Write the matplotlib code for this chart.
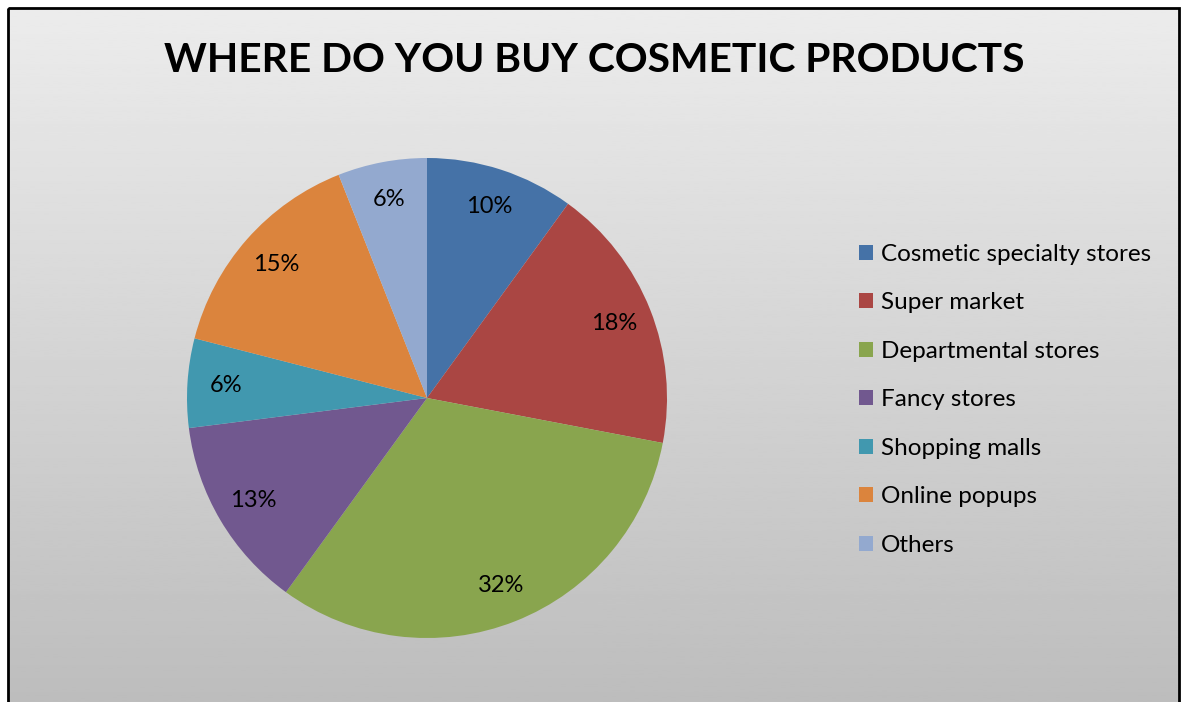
import numpy as np
import matplotlib
matplotlib.use('Agg')
import matplotlib.pyplot as plt
from matplotlib.patches import Rectangle

# survey answers, share of respondents in percent
places = ['Cosmetic specialty stores', 'Super market', 'Departmental stores',
          'Fancy stores', 'Shopping malls', 'Online popups', 'Others']
shares = [10, 18, 32, 13, 6, 15, 6]
colors = ['#4572A7', '#AA4643', '#89A54E', '#71588F', '#4198AF', '#DB843D', '#93A9CF']

plt.rcParams['font.family'] = ['Lato', 'DejaVu Sans']

W, H = 1181, 702
fig = plt.figure(figsize=(W / 100, H / 100), dpi=100)
fig.patch.set_facecolor('white')

# grey gradient chart area with a black frame
bg = fig.add_axes([0, 0, 1, 1])
bg.set_xlim(0, W)
bg.set_ylim(H, 0)
bg.axis('off')
grad = np.linspace(0.925, 0.74, 256).reshape(-1, 1)
bg.imshow(grad, cmap='gray', vmin=0, vmax=1, aspect='auto',
          extent=[8, 1180, H + 2, 8], zorder=0)
bg.add_patch(Rectangle((8, 8), 1171, H + 10, fill=False, lw=2,
                       edgecolor='black', zorder=1))
bg.text(594, 60, 'WHERE DO YOU BUY COSMETIC PRODUCTS', ha='center', va='center',
        fontsize=29.3, fontweight='bold', color='black')

# pie, centre at (427, 398) px, radius 240 px
ax = fig.add_axes([(427 - 240) / W, 1 - 638 / H, 480 / W, 480 / H])
wedges, texts, autotexts = ax.pie(
    shares, colors=colors, startangle=90, counterclock=False,
    autopct='%.0f%%', pctdistance=0.84, radius=1,
    wedgeprops=dict(linewidth=0.5, edgecolor='none'),
    textprops=dict(fontsize=17, color='black'))
ax.set_xlim(-1, 1)
ax.set_ylim(-1, 1)
ax.set_aspect('equal')

leg = fig.legend(wedges, places, loc='upper left',
                 bbox_to_anchor=(859 / W, 1 - 244 / H),
                 frameon=False, fontsize=17.5, handlelength=0.58,
                 handleheight=0.58, handletextpad=0.33, labelspacing=1.13,
                 borderpad=0, borderaxespad=0)

fig.savefig('out.png', dpi=100)
